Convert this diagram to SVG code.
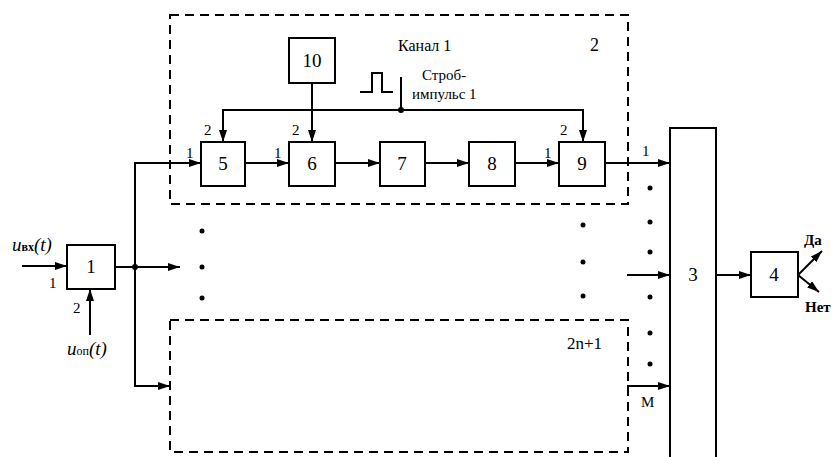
<svg xmlns="http://www.w3.org/2000/svg" width="836" height="457" viewBox="0 0 836 457">
<defs>
<marker id="ah" viewBox="0 0 12 8" refX="12" refY="4" markerWidth="12" markerHeight="8" markerUnits="userSpaceOnUse" orient="auto">
<path d="M0,0 L12,4 L0,8 Z" fill="#000"/>
</marker>
<style>
.b{fill:#fff;stroke:#000;stroke-width:2}
.l{fill:none;stroke:#000;stroke-width:2}
.d{fill:none;stroke:#000;stroke-width:2;stroke-dasharray:9,6}
.a{fill:none;stroke:#000;stroke-width:2;marker-end:url(#ah)}
text{font-family:"Liberation Serif",serif;fill:#000}
.n{font-size:19px;text-anchor:middle}
.s{font-size:15px}
.t{font-size:16px}
</style>
</defs>
<rect width="836" height="457" fill="#fff"/>
<g id="channel1"><rect x="170" y="15" width="458" height="189" class="d"/><text x="398" y="51" class="t">Канал 1</text><text x="590" y="51" font-size="18">2</text></g>
<g id="channel2n1"><rect x="170" y="320" width="458" height="132" class="d"/><text x="567" y="349" font-size="17">2n+1</text></g>
<g id="connectors">
<line x1="22" y1="266" x2="67" y2="266" class="a"/>
<line x1="90" y1="335" x2="90" y2="289" class="a"/>
<line x1="115" y1="267" x2="180" y2="267" class="a"/>
<polyline points="135,163 135,386" class="l"/>
<line x1="134" y1="163" x2="201" y2="163" class="a"/>
<line x1="134" y1="386" x2="170" y2="386" class="a"/>
<circle cx="135" cy="267" r="3"/>
<line x1="245" y1="163" x2="289" y2="163" class="a"/>
<line x1="335" y1="163" x2="380" y2="163" class="a"/>
<line x1="425" y1="163" x2="469" y2="163" class="a"/>
<line x1="515" y1="163" x2="559" y2="163" class="a"/>
<line x1="605" y1="163" x2="670" y2="163" class="a"/>
<line x1="312" y1="83" x2="312" y2="142" class="a"/>
<polyline points="223,142 223,110 583,110 583,142" class="l"/>
<line x1="223" y1="111" x2="223" y2="142" class="a"/>
<line x1="583" y1="111" x2="583" y2="142" class="a"/>
<line x1="401" y1="77" x2="401" y2="110" class="l"/>
<circle cx="401" cy="110" r="3"/>
<polyline points="360,92 372,92 372,73 382,73 382,92 393,92" class="l"/>
<line x1="627" y1="275" x2="670" y2="275" class="a"/>
<polyline points="628,396 628,386 670,386" class="l"/>
<line x1="628" y1="386" x2="670" y2="386" class="a"/>
<line x1="716" y1="275" x2="751" y2="275" class="a"/>
<line x1="798" y1="275" x2="822" y2="251" class="a"/>
<line x1="798" y1="275" x2="819" y2="292" class="a"/>
</g>
<g id="dots">
<circle cx="202" cy="231" r="2.5"/><circle cx="202" cy="267" r="2.5"/><circle cx="202" cy="298" r="2.5"/>
<circle cx="583" cy="225" r="2.5"/><circle cx="583" cy="262" r="2.5"/><circle cx="583" cy="296" r="2.5"/>
<circle cx="650" cy="188" r="2.5"/><circle cx="650" cy="222" r="2.5"/><circle cx="650" cy="252" r="2.5"/><circle cx="650" cy="297" r="2.5"/><circle cx="650" cy="333" r="2.5"/><circle cx="650" cy="364" r="2.5"/>
</g>
<g id="n1"><rect x="67" y="245" width="48" height="44" class="b"/><text x="91" y="273" class="n">1</text></g>
<g id="n5"><rect x="201" y="142" width="44" height="44" class="b"/><text x="223" y="170" class="n">5</text></g>
<g id="n6"><rect x="289" y="142" width="46" height="44" class="b"/><text x="312" y="170" class="n">6</text></g>
<g id="n7"><rect x="380" y="142" width="45" height="44" class="b"/><text x="402" y="170" class="n">7</text></g>
<g id="n8"><rect x="469" y="142" width="46" height="44" class="b"/><text x="492" y="170" class="n">8</text></g>
<g id="n9"><rect x="559" y="142" width="46" height="44" class="b"/><text x="582" y="170" class="n">9</text></g>
<g id="n10"><rect x="289" y="38" width="46" height="45" class="b"/><text x="312" y="67" class="n">10</text></g>
<g id="n3"><rect x="670" y="128" width="46" height="335" class="b"/><text x="693" y="281" class="n">3</text></g>
<g id="n4"><rect x="751" y="252" width="47" height="45" class="b"/><text x="774" y="281" class="n">4</text></g>
<g id="labels">
<text x="12" y="251" font-size="19" font-style="italic">u<tspan font-size="12" font-style="normal" font-weight="bold">вх</tspan>(t)</text>
<text x="67" y="355" font-size="19" font-style="italic">u<tspan font-size="12" font-style="normal">оп</tspan>(t)</text>
<text x="49" y="288" class="s">1</text>
<text x="73" y="313" class="s">2</text>
<text x="186" y="158" class="s">1</text>
<text x="204" y="135" class="s">2</text>
<text x="274" y="158" class="s">1</text>
<text x="292" y="135" class="s">2</text>
<text x="544" y="158" class="s">1</text>
<text x="560" y="135" class="s">2</text>
<text x="642" y="156" class="s">1</text>
<text x="641" y="407" class="s">М</text>
<text x="422" y="80" class="s">Строб-</text>
<text x="412" y="99" class="s">импульс 1</text>
<text x="804" y="245" font-size="15" font-weight="bold">Да</text>
<text x="805" y="312" font-size="15" font-weight="bold">Нет</text>
</g>
</svg>
